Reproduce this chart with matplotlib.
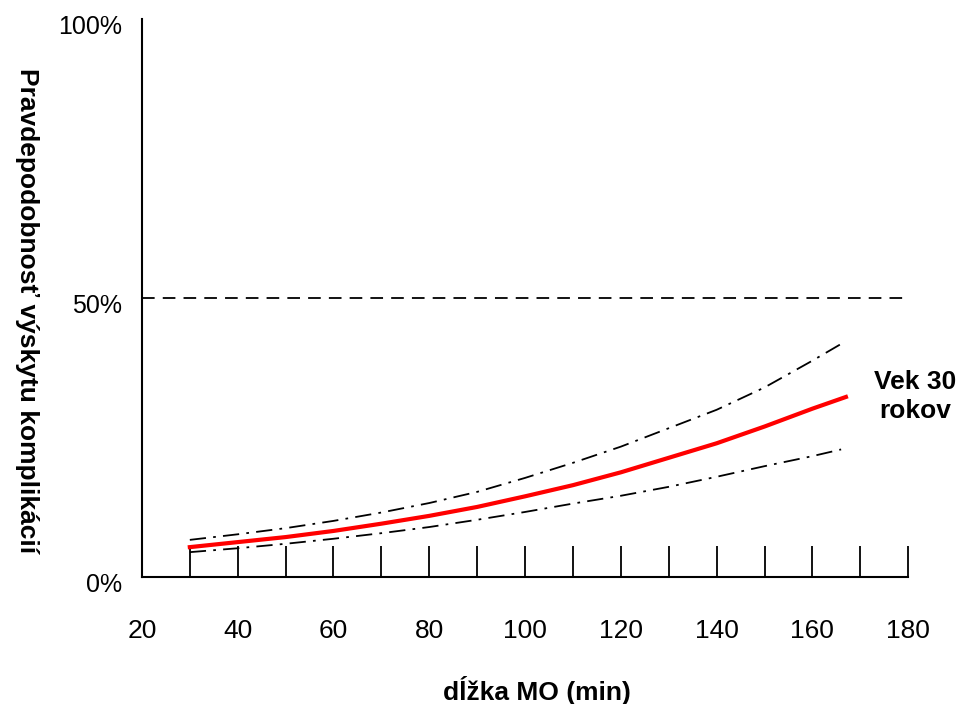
import matplotlib.pyplot as plt
import matplotlib.transforms as mtransforms
from matplotlib.ticker import MultipleLocator, FixedLocator, FuncFormatter

plt.rcParams['font.family'] = ['Liberation Sans', 'DejaVu Sans']

# dĺžka operácie (min) a odhadnuté pravdepodobnosti (%)
x_vals = [30, 40, 50, 60, 70, 80, 90, 100, 110, 120, 130, 140, 150, 160, 167]
prob = [5.4, 6.3, 7.2, 8.3, 9.6, 11.0, 12.6, 14.5, 16.5, 18.8, 21.4, 24.0, 27.0, 30.2, 32.3]
upper = [6.7, 7.7, 8.8, 10.1, 11.6, 13.3, 15.3, 17.8, 20.5, 23.4, 26.7, 30.0, 34.0, 38.8, 42.3]
x_low = [30, 40, 50, 60, 70, 80, 90, 100, 110, 120, 130, 140, 150, 160, 166]
lower = [4.5, 5.2, 6.0, 6.9, 7.9, 9.0, 10.3, 11.7, 13.2, 14.6, 16.2, 18.0, 19.9, 21.7, 22.9]
y_ticks = [0, 50, 100]

fig = plt.figure(figsize=(9.59, 7.04), dpi=100)
ax = fig.add_axes([0.148, 0.180, 0.799, 0.793])

ax.plot(x_vals, upper, color='black', lw=1.3, linestyle=(0, (9, 4, 1.5, 4)))
ax.plot(x_low, lower, color='black', lw=1.3, linestyle=(0, (9, 4, 1.5, 4)))
ax.plot(x_vals, prob, color='#ff0000', lw=3)
ax.axhline(50, color='black', lw=1.3, linestyle=(0, (7, 4.5)))

ax.set_xlim(20, 180)
ax.set_ylim(0, 100)
ax.xaxis.set_major_locator(MultipleLocator(20))
ax.xaxis.set_minor_locator(MultipleLocator(10))
ax.yaxis.set_major_locator(FixedLocator(y_ticks))
ax.yaxis.set_minor_locator(FixedLocator([50]))
ax.yaxis.set_major_formatter(FuncFormatter(lambda v, p: '%d%%' % v))

for s in ['top', 'right']:
    ax.spines[s].set_visible(False)
for s in ['left', 'bottom']:
    ax.spines[s].set_linewidth(1.5)

ax.tick_params(axis='x', which='both', direction='in', length=22, width=1.3,
               pad=30, labelsize=19)
ax.tick_params(axis='y', which='major', direction='in', length=0, pad=14, labelsize=18)
ax.tick_params(axis='y', which='minor', direction='in', length=12, width=1.3)

shift = mtransforms.ScaledTranslation(0, -4 / 72, fig.dpi_scale_trans)
for t in ax.get_yticklabels():
    t.set_transform(t.get_transform() + shift)

ax.set_xlabel('dĺžka MO (min)', fontsize=19, fontweight='bold', va='center')
ax.xaxis.set_label_coords(0.516, -0.203)
ax.set_ylabel('Pravdepodobnosť výskytu komplikácií', fontsize=19, fontweight='bold',
              rotation=270, ha='center', va='center')
ax.yaxis.set_label_coords(-0.150, 0.478)

ax.text(181.5, 32.4, 'Vek 30\nrokov', fontsize=19, fontweight='bold', ha='center', va='center',
        linespacing=1.25, clip_on=False)

fig.savefig('out.png', dpi=100)
